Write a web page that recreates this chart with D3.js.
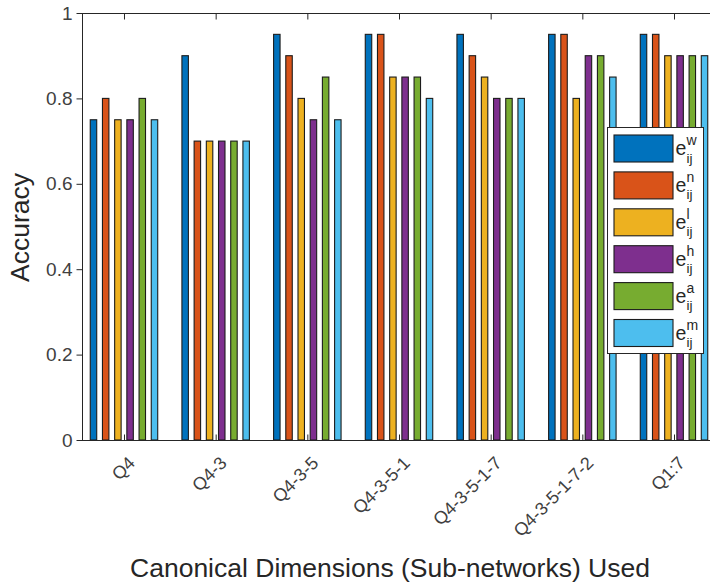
<!DOCTYPE html>
<html>
<head>
<meta charset="utf-8">
<script src="https://cdn.jsdelivr.net/npm/d3@7"></script>
<style>
  html, body { margin: 0; padding: 0; background: #fff; }
  svg { display: block; font-family: "Liberation Sans", Arial, Helvetica, sans-serif; }
</style>
</head>
<body>
<svg id="chart" width="710" height="584"></svg>
<script>
// Sub-network combinations on the x axis
const categories = ["Q4", "Q4-3", "Q4-3-5", "Q4-3-5-1", "Q4-3-5-1-7", "Q4-3-5-1-7-2", "Q1:7"];

// Edge-weighting variants (legend order) and their accuracies per category
const seriesKeys = ["w", "n", "l", "h", "a", "m"];
const eW = [0.75, 0.90, 0.95, 0.95, 0.95, 0.95, 0.95];
const eN = [0.80, 0.70, 0.90, 0.95, 0.90, 0.95, 0.95];
const eL = [0.75, 0.70, 0.80, 0.85, 0.85, 0.80, 0.90];
const eH = [0.75, 0.70, 0.75, 0.85, 0.80, 0.90, 0.90];
const eA = [0.80, 0.70, 0.85, 0.85, 0.80, 0.90, 0.90];
const eM = [0.75, 0.70, 0.75, 0.80, 0.80, 0.85, 0.90];
const seriesValues = [eW, eN, eL, eH, eA, eM];
const seriesColors = ["#0072BD", "#D95319", "#EDB120", "#7E2F8E", "#77AC30", "#4DBEEE"];

const yTicks = [0, 0.2, 0.4, 0.6, 0.8, 1];

const svg = d3.select("#chart");
const axisColor = "#262626";

// Plot frame
const plotLeft = 82, plotRight = 716, plotTop = 13, plotBottom = 440;
const step = (plotRight - plotLeft) / (categories.length - 1 + 2 * 0.458);

const x = d3.scalePoint()
  .domain(categories)
  .range([plotLeft + 0.458 * step, plotRight - 0.458 * step]);

const xInner = d3.scaleBand()
  .domain(seriesKeys)
  .range([-36.6, 36.6])
  .paddingInner(0.47)
  .paddingOuter(0.235);

const y = d3.scaleLinear().domain([0, 1]).range([plotBottom, plotTop]);

// Bars
const groups = svg.append("g").selectAll("g")
  .data(seriesKeys.map((k, i) => ({ key: k, values: seriesValues[i], color: seriesColors[i] })))
  .join("g")
  .attr("fill", d => d.color);

groups.selectAll("rect")
  .data(d => d.values.map((v, j) => ({ key: d.key, cat: categories[j], v })))
  .join("rect")
  .attr("x", d => x(d.cat) + xInner(d.key))
  .attr("width", xInner.bandwidth())
  .attr("y", d => y(d.v))
  .attr("height", d => y(0) - y(d.v))
  .attr("stroke", "#1c1c1c")
  .attr("stroke-width", 1.1);

// Frame lines (left, top, bottom)
const frame = svg.append("g").attr("stroke", axisColor).attr("stroke-width", 1).attr("fill", "none");
frame.append("line").attr("x1", plotLeft + 0.5).attr("x2", plotLeft + 0.5).attr("y1", plotTop).attr("y2", plotBottom + 0.5);
frame.append("line").attr("x1", plotLeft).attr("x2", 710).attr("y1", plotTop + 0.5).attr("y2", plotTop + 0.5);
frame.append("line").attr("x1", plotLeft).attr("x2", 710).attr("y1", plotBottom + 0.5).attr("y2", plotBottom + 0.5);

// Y axis
const yAxis = svg.append("g")
  .attr("transform", `translate(${plotLeft + 0.5},0)`)
  .call(d3.axisLeft(y).tickValues(yTicks).tickFormat(d3.format("~g")).tickSize(6).tickPadding(4));
yAxis.select(".domain").remove();
yAxis.selectAll(".tick line").attr("stroke", axisColor);
yAxis.selectAll(".tick text")
  .attr("fill", "#404040")
  .style("font-size", "19px")
  .style("font-family", "'Liberation Sans', Arial, sans-serif");

// X ticks: inward marks on top and bottom edges
const xTop = svg.append("g")
  .attr("transform", `translate(0,${plotTop + 0.5})`)
  .call(d3.axisTop(x).tickSize(-6).tickFormat(""));
xTop.select(".domain").remove();
xTop.selectAll(".tick line").attr("stroke", axisColor);

const xBottom = svg.append("g")
  .attr("transform", `translate(0,${plotBottom + 0.5})`)
  .call(d3.axisBottom(x).tickSize(-6).tickFormat(""));
xBottom.select(".domain").remove();
xBottom.selectAll(".tick line").attr("stroke", axisColor);

// Rotated category labels
svg.append("g").selectAll("text")
  .data(categories)
  .join("text")
  .attr("transform", d => `translate(${x(d) + 3},${plotBottom + 15}) rotate(-45)`)
  .attr("text-anchor", "end")
  .attr("dy", "0.72em")
  .attr("fill", "#404040")
  .style("font-size", "18px")
  .text(d => d);

// Axis titles
svg.append("text")
  .attr("x", 390)
  .attr("y", 577)
  .attr("text-anchor", "middle")
  .attr("fill", axisColor)
  .style("font-size", "26.5px")
  .text("Canonical Dimensions (Sub-networks) Used");

svg.append("text")
  .attr("transform", `translate(29,${(plotTop + plotBottom) / 2 + 1}) rotate(-90)`)
  .attr("text-anchor", "middle")
  .attr("fill", axisColor)
  .style("font-size", "26.5px")
  .text("Accuracy");

// Legend
const legend = svg.append("g");
legend.append("rect")
  .attr("x", 607.5).attr("y", 127.5)
  .attr("width", 96).attr("height", 226)
  .attr("fill", "#fff").attr("stroke", axisColor).attr("stroke-width", 1);

const entry = legend.selectAll("g.entry")
  .data(seriesKeys.map((k, i) => ({ key: k, color: seriesColors[i], i })))
  .join("g")
  .attr("class", "entry")
  .attr("transform", d => `translate(0,${135 + d.i * 36.9})`);

entry.append("rect")
  .attr("x", 614).attr("y", 0)
  .attr("width", 59).attr("height", 27)
  .attr("fill", d => d.color)
  .attr("stroke", "#1c1c1c").attr("stroke-width", 1.1);

// e with stacked superscript (variant) and subscript ij
const label = entry.append("text")
  .attr("x", 675.5).attr("y", 20)
  .attr("fill", axisColor)
  .style("font-size", "19.5px");
label.append("tspan").text("e");
label.append("tspan")
  .attr("x", 686.5).attr("y", 10)
  .style("font-size", "14px")
  .text(d => d.key);
label.append("tspan")
  .attr("x", 686.5).attr("y", 27.5)
  .style("font-size", "13.5px")
  .text("ij");
</script>
</body>
</html>
